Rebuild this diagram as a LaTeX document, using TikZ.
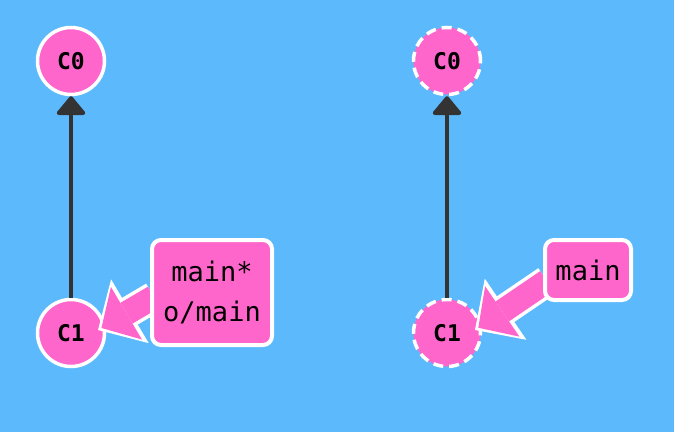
\documentclass[tikz,border=0pt]{standalone}
\usepackage{fontspec}
\setmonofont{DejaVu Sans Mono}
\usetikzlibrary{arrows.meta}
\definecolor{bgblue}{HTML}{5CBAFC}
\definecolor{commitpink}{HTML}{FF66CC}
\definecolor{edgegray}{HTML}{333333}
\begin{document}
\begin{tikzpicture}[x=1pt,y=1pt,
    commit/.style={circle,draw=white,fill=commitpink,line width=3.5pt,minimum size=67pt,inner sep=0pt,font=\fontsize{23}{28}\selectfont\ttfamily\bfseries},
    ghost/.style={commit,dash pattern=on 10pt off 6pt},
    branchbox/.style={rectangle,rounded corners=9pt,draw=white,fill=commitpink,line width=4pt,inner sep=0pt,align=center,font=\fontsize{27}{40}\selectfont\ttfamily},
    parent/.style={draw=edgegray,line width=4pt,-{Triangle[length=20pt,width=32pt,round]}},
    refout/.style={draw=white,line width=31pt,-{Triangle[length=37pt,width=74pt,line width=0pt]}},
    refin/.style={draw=commitpink,line width=24pt,shorten >=4pt,-{Triangle[length=29pt,width=61pt,line width=0pt]}}]
    \fill[bgblue] (0,0) rectangle (674,432);
    \useasboundingbox (0,0) rectangle (674,432);

    % left side
    \node[commit] (c0L) at (71,371) {C0};
    \node[commit] (c1L) at (71,99) {C1};
    \draw[parent] (c1L) -- (c0L);
    \coordinate (tipL) at (98,102);
    \coordinate (tailL) at (154,135);
    \draw[refout] (tailL) -- (tipL);
    \draw[refin] (tailL) -- (tipL);
    \node[branchbox,minimum width=120pt,minimum height=105pt] (mainL) at (212,139.5) {main*\\o/main};

    % right side
    \node[ghost] (c0R) at (447,371) {C0};
    \node[ghost] (c1R) at (447,99) {C1};
    \draw[parent] (c1R) -- (c0R);
    \coordinate (tipR) at (475,102);
    \coordinate (tailR) at (547,151);
    \draw[refout] (tailR) -- (tipR);
    \draw[refin] (tailR) -- (tipR);
    \node[branchbox,minimum width=86pt,minimum height=60pt] (mainR) at (588,162) {main};
\end{tikzpicture}
\end{document}
